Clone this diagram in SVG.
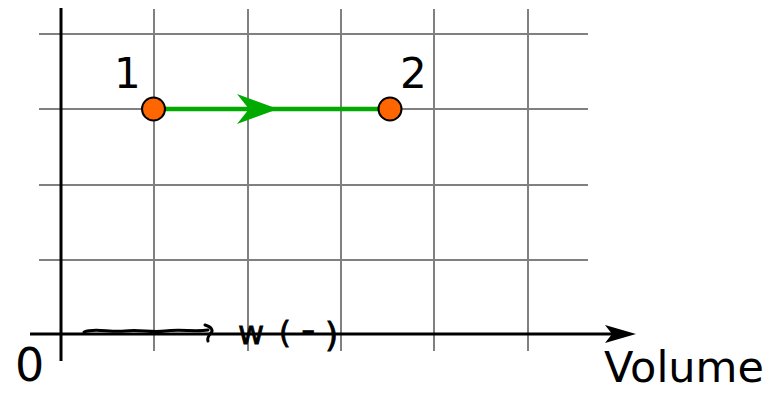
<svg xmlns="http://www.w3.org/2000/svg" width="767" height="393" viewBox="0 0 767 393">
<style>
.grid{stroke:#808080;stroke-width:2;fill:none}
.axis{stroke:#000;stroke-width:3;fill:none}
.lbl{font-family:"DejaVu Sans",sans-serif;fill:#000}
.pt{fill:#ff6600;stroke:#000;stroke-width:2}
.hand{fill:none;stroke:#000;stroke-width:3;stroke-linecap:round;stroke-linejoin:round}
.htxt{font-family:"DejaVu Sans",sans-serif;fill:#000;stroke:#000;stroke-width:0.8}
</style>
<rect width="767" height="393" fill="#fff"/>
<g id="grid">
<line class="grid" x1="154" y1="9" x2="154" y2="351"/>
<line class="grid" x1="248" y1="9" x2="248" y2="351"/>
<line class="grid" x1="341" y1="9" x2="341" y2="351"/>
<line class="grid" x1="434" y1="9" x2="434" y2="351"/>
<line class="grid" x1="528" y1="9" x2="528" y2="351"/>
<line class="grid" x1="39" y1="34" x2="588" y2="34"/>
<line class="grid" x1="39" y1="109" x2="588" y2="109"/>
<line class="grid" x1="39" y1="185" x2="588" y2="185"/>
<line class="grid" x1="39" y1="260" x2="588" y2="260"/>
</g>
<g id="axes">
<line class="axis" x1="61" y1="8" x2="61" y2="361"/>
<line class="axis" x1="30" y1="334" x2="612" y2="334"/>
<path d="M636,334 L605,325 L612,334 L605,343 Z" fill="#000"/>
</g>
<g id="connectors">
<line x1="154" y1="109" x2="390" y2="109" stroke="#00aa00" stroke-width="4.5"/>
<path d="M278,109 L237,94 L249,109 L237,124 Z" fill="#00aa00"/>
</g>
<g id="node-1">
<circle class="pt" cx="153.5" cy="109" r="11.5"/>
<text class="lbl" x="114" y="88" font-size="42">1</text>
</g>
<g id="node-2">
<circle class="pt" cx="390" cy="109" r="11.5"/>
<text class="lbl" x="400" y="88" font-size="42">2</text>
</g>
<g id="labels">
<text class="lbl" x="15" y="381" font-size="46">0</text>
<text class="lbl" x="604" y="382" font-size="43">Volume</text>
</g>
<g id="annotation">
<path class="hand" d="M84,332 C95,327 110,333 125,331 C140,329 150,333 165,331 C180,329 195,332 208,330"/>
<path class="hand" d="M205,325 C212,327 214,331 210,334 C208,337 207,339 208,341"/>
<text class="htxt" x="238" y="344" font-size="32">w</text>
<text class="htxt" x="279" y="343" font-size="30">(</text>
<text class="htxt" x="301" y="344" font-size="40">-</text>
<text class="htxt" x="325" y="347" font-size="34">)</text>
</g>
</svg>
